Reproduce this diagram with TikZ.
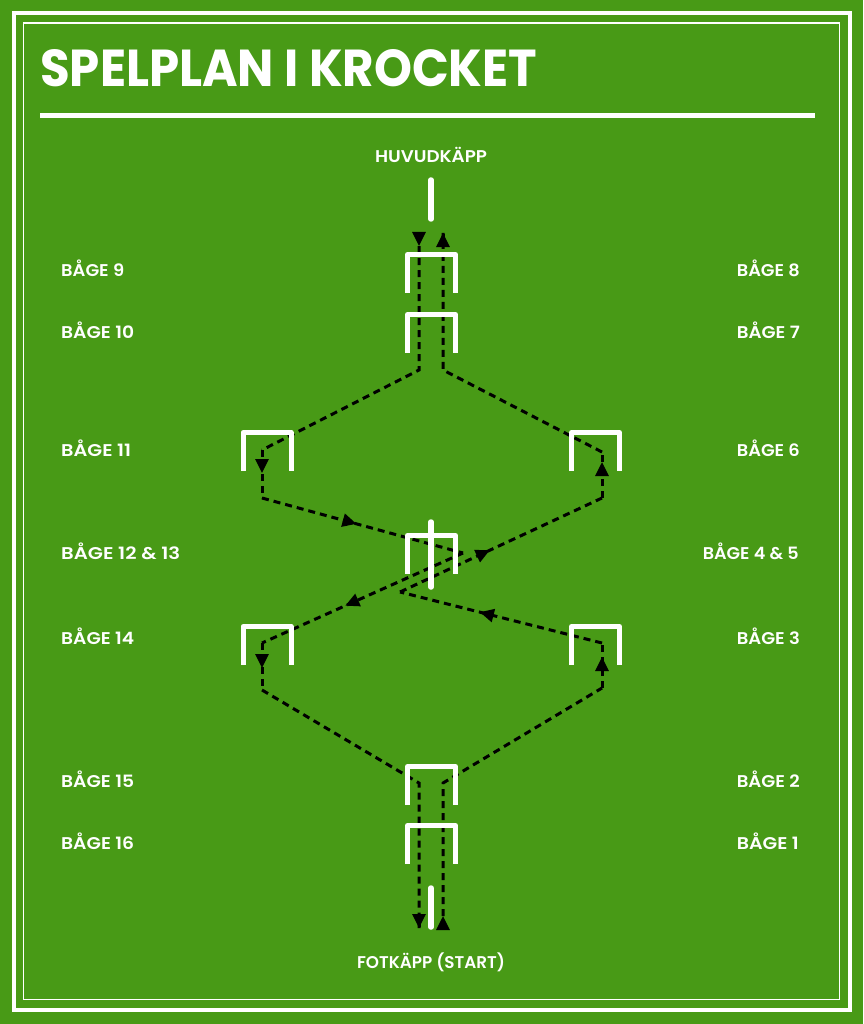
\documentclass[tikz,border=0pt]{standalone}
\usepackage{fontspec}
\usepackage{graphicx}
\setmainfont{Poppins}
\newfontfamily\lblfont{Poppins}[UprightFont={* SemiBold}]
\usetikzlibrary{arrows.meta,decorations.markings}
\definecolor{field}{HTML}{489A16}
\newcommand\fitw[2]{\setbox0\hbox{#2}\pgfmathsetmacro\fitsc{#1/\the\wd0}\scalebox{\fitsc}[1]{#2}}
\begin{document}
\begin{tikzpicture}[x=1pt,y=-1pt,
  outerframe/.style={draw=white,line width=4pt},
  innerframe/.style={draw=white,line width=1.8pt},
  hoopline/.style={draw=white,line width=5pt,line join=round},
  stakeline/.style={draw=white,line width=5.5pt,line cap=round},
  route/.style={draw=black,line width=3pt,dash pattern=on 7pt off 5pt},
  tip/.style={-{Triangle[length=14pt,width=13pt]},line width=3pt,draw=black},
  midarrow/.style={postaction={decorate},decoration={markings,
     mark=at position #1 with {\arrow{Triangle[length=14pt,width=13pt]}}}},
  lbl/.style={text=white,inner sep=0pt,font=\fontsize{17}{19}\lblfont},
  hoop/.pic={\draw[hoopline] (-24,38.5) -- (-24,0) -- (24,0) -- (24,38.5);}]
\useasboundingbox (0,0) rectangle (863,1024);
\fill[field] (0,0) rectangle (863,1024);
\draw[outerframe] (13.5,13) rectangle (849.5,1010);
\draw[innerframe] (23.5,23) rectangle (839.5,999.5);
% title
\node[anchor=base west,inner sep=0pt,text=white] (title) at (40,87)
  {\resizebox{497pt}{37pt}{\bfseries SPELPLAN I KROCKET}};
\coordinate (ulA) at (40,115.5);
\coordinate (ulB) at (815,115.5);
\draw[white,line width=5pt] (ulA) -- (ulB);
% labels
\node[lbl,anchor=base] (huvud) at (431,163) {\fitw{112}{HUVUDKÄPP}};
\node[lbl,anchor=base] (fot) at (431,968) {\fitw{148}{FOTKÄPP (START)}};
\node[lbl,anchor=base west] (b9) at (61,276) {\fitw{63}{BÅGE 9}};
\node[lbl,anchor=base west] (b10) at (61,338) {\fitw{73}{BÅGE 10}};
\node[lbl,anchor=base west] (b11) at (61,456) {\fitw{70}{BÅGE 11}};
\node[lbl,anchor=base west] (b12) at (61,559) {\fitw{119}{BÅGE 12 \& 13}};
\node[lbl,anchor=base west] (b14) at (61,644) {\fitw{73}{BÅGE 14}};
\node[lbl,anchor=base west] (b15) at (61,787) {\fitw{73}{BÅGE 15}};
\node[lbl,anchor=base west] (b16) at (61,849) {\fitw{73}{BÅGE 16}};
\node[lbl,anchor=base east] (b8) at (800,276) {\fitw{63}{BÅGE 8}};
\node[lbl,anchor=base east] (b7) at (800,338) {\fitw{63}{BÅGE 7}};
\node[lbl,anchor=base east] (b6) at (800,456) {\fitw{63}{BÅGE 6}};
\node[lbl,anchor=base east] (b4) at (799,559) {\fitw{96}{BÅGE 4 \& 5}};
\node[lbl,anchor=base east] (b3) at (800,644) {\fitw{63}{BÅGE 3}};
\node[lbl,anchor=base east] (b2) at (800,787) {\fitw{63}{BÅGE 2}};
\node[lbl,anchor=base east] (b1) at (799,849) {\fitw{62}{BÅGE 1}};
% route coordinates
\coordinate (L0) at (419,233);
\coordinate (L1) at (419,246);
\coordinate (L2) at (419,370);
\coordinate (L3) at (262,450);
\coordinate (L4) at (262,498);
\coordinate (L5) at (463,553);
\coordinate (L6) at (262,643);
\coordinate (L7) at (262,690);
\coordinate (L8) at (419,783);
\coordinate (L9) at (419,928);
\coordinate (R0) at (443,929);
\coordinate (R1) at (443,916);
\coordinate (R2) at (443,783);
\coordinate (R3) at (602,688);
\coordinate (R4) at (602,643);
\coordinate (R5) at (400,592);
\coordinate (R6) at (602,498);
\coordinate (R7) at (602,452);
\coordinate (R8) at (443,370);
\coordinate (R9) at (443,233);
% left route (huvudkäpp -> fotkäpp)
\draw[tip] (L0) -- (L1);
\draw[route] (L1) -- (L2) -- (L3);
\draw[route,midarrow=23pt] (L3) -- (L4);
\draw[route,midarrow=98pt] (L4) -- (L5);
\draw[route,midarrow=129pt] (L5) -- (L6);
\draw[route,midarrow=25pt] (L6) -- (L7);
\draw[route] (L7) -- (L8) -- (L9);
\draw[tip] ([yshift=1pt]L9) -- (L9);
% right route (fotkäpp -> huvudkäpp)
\draw[tip] (R0) -- (R1);
\draw[route] (R1) -- (R2) -- (R3);
\draw[route,midarrow=31pt] (R3) -- (R4);
\draw[route,midarrow=126pt] (R4) -- (R5);
\draw[route,midarrow=99pt] (R5) -- (R6);
\draw[route,midarrow=36pt] (R6) -- (R7);
\draw[route] (R7) -- (R8) -- (R9);
\draw[tip] ([yshift=-1pt]R9) -- (R9);
% hoops
\pic (h9) at (431.5,254.5) {hoop};
\pic (h10) at (431.5,314.5) {hoop};
\pic (h11) at (267,432.5) {hoop};
\pic (h6) at (595.5,432.5) {hoop};
\pic (h12) at (431.5,535.5) {hoop};
\pic (h14) at (267,626.5) {hoop};
\pic (h3) at (595.5,626.5) {hoop};
\pic (h15) at (431.5,766.5) {hoop};
\pic (h16) at (431.5,825.5) {hoop};
% stakes
\coordinate (sTa) at (431,180);
\coordinate (sTb) at (431,219);
\coordinate (sMa) at (431,522);
\coordinate (sMb) at (431,587);
\coordinate (sFa) at (431,888);
\coordinate (sFb) at (431,927);
\draw[stakeline] (sTa) -- (sTb);
\draw[stakeline] (sMa) -- (sMb);
\draw[stakeline] (sFa) -- (sFb);
\end{tikzpicture}
\end{document}
